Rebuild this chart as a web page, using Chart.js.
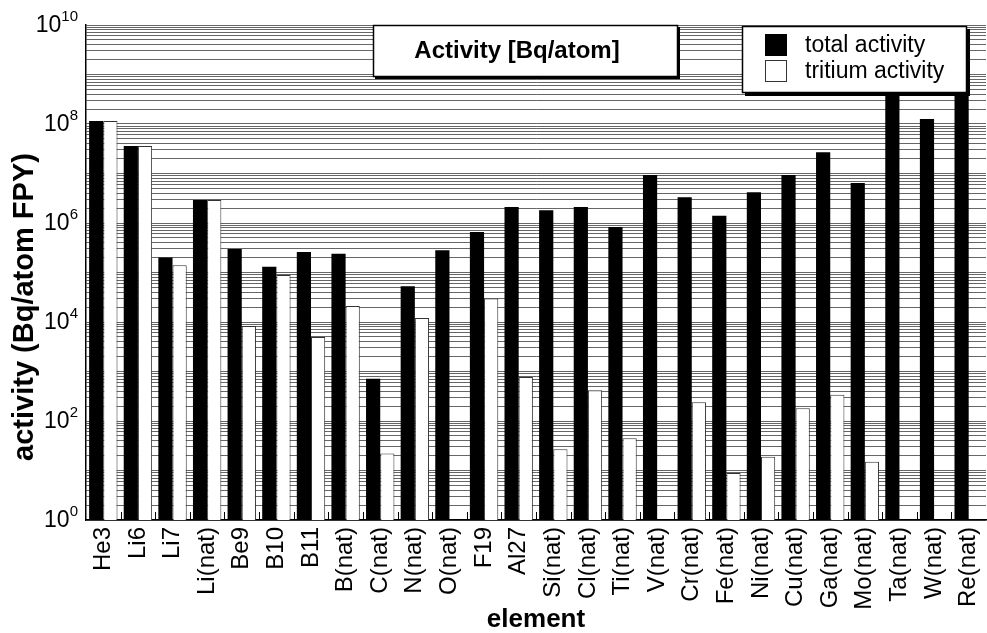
<!DOCTYPE html>
<html>
<head>
<meta charset="utf-8">
<script src="https://cdn.jsdelivr.net/npm/chart.js@4/dist/chart.umd.min.js"></script>
<style>
  body { margin: 0; background: #fff; }
  #wrap { width: 987px; height: 633px; }
</style>
</head>
<body>
<div id="wrap"><canvas id="activity_chart" width="987" height="633"></canvas></div>
<script>
// elements on the x axis
const elements = ['He3', 'Li6', 'Li7', 'Li(nat)', 'Be9', 'B10', 'B11', 'B(nat)', 'C(nat)', 'N(nat)',
   'O(nat)', 'F19', 'Al27', 'Si(nat)', 'Cl(nat)', 'Ti(nat)', 'V(nat)', 'Cr(nat)', 'Fe(nat)', 'Ni(nat)',
   'Cu(nat)', 'Ga(nat)', 'Mo(nat)', 'Ta(nat)', 'W(nat)', 'Re(nat)'];

// activity in Bq/atom FPY
const totalActivity = [1.15e8, 3.6e7, 2.0e5, 2.9e6, 3.0e5, 1.3e5, 2.6e5, 2.4e5, 7.1e2, 5.3e4,
   2.8e5, 6.6e5, 2.1e6, 1.8e6, 2.1e6, 8.3e5, 9.3e6, 3.3e6, 1.4e6, 4.2e6,
   9.3e6, 2.7e7, 6.4e6, 4.5e8, 1.26e8, 4.2e8];
const tritiumActivity = [1.15e8, 3.6e7, 1.4e5, 2.9e6, 8.3e3, 8.9e4, 5.0e3, 2.1e4, 22, 1.2e4,
   null, 3.0e4, 7.7e2, 27, 4.2e2, 45, null, 2.4e2, 8.9, 19,
   1.8e2, 3.4e2, 15, null, null, null];

// labelled decades on the y axis
const yExponents = [0, 2, 4, 6, 8, 10];

const chartTitle = 'Activity [Bq/atom]';
const yTitle = 'activity (Bq/atom FPY)';
const xTitle = 'element';

const FONT = '"Liberation Sans", Arial, Helvetica, sans-serif';
Chart.defaults.font.family = FONT;
Chart.defaults.color = '#000';

// draws the y tick labels with superscripts, y title, inner ticks, title box and legend
const decorations = {
   id: 'decorations',
   afterDatasetsDraw(chart) {
      const ctx = chart.ctx;
      const area = chart.chartArea;
      const n = elements.length;
      ctx.save();
      ctx.strokeStyle = '#000';
      ctx.lineWidth = 1;
      for (let i = 1; i < n; i++) {
         const x = Math.round(area.left + i * (area.right - area.left) / n) + 0.5;
         ctx.beginPath();
         ctx.moveTo(x, area.bottom);
         ctx.lineTo(x, area.bottom - 8);
         ctx.stroke();
      }
      ctx.restore();
   },
   afterDraw(chart) {
      const ctx = chart.ctx;
      const y = chart.scales.y;
      ctx.save();

      // y tick labels 10^n
      ctx.fillStyle = '#000';
      yExponents.forEach(e => {
         const py = y.getPixelForValue(Math.pow(10, e));
         const right = 78;
         ctx.font = '15px ' + FONT;
         const expText = String(e);
         const ew = ctx.measureText(expText).width;
         ctx.textAlign = 'left';
         ctx.textBaseline = 'middle';
         ctx.fillText(expText, right - ew, py - 8);
         ctx.font = '23px ' + FONT;
         ctx.textAlign = 'right';
         ctx.fillText('10', right - ew, py + 1);
      });

      // y axis title
      ctx.save();
      ctx.translate(25, 307);
      ctx.rotate(-Math.PI / 2);
      ctx.font = 'bold 29px ' + FONT;
      ctx.textAlign = 'center';
      ctx.textBaseline = 'middle';
      ctx.fillText(yTitle, 0, 0);
      ctx.restore();

      // title box
      ctx.fillStyle = '#000';
      ctx.fillRect(375, 27, 305, 52);
      ctx.fillStyle = '#fff';
      ctx.fillRect(373, 25, 305, 52);
      ctx.strokeStyle = '#000';
      ctx.lineWidth = 1.5;
      ctx.strokeRect(373.5, 25.5, 304, 51);
      ctx.fillStyle = '#000';
      ctx.font = 'bold 24px ' + FONT;
      ctx.textAlign = 'center';
      ctx.textBaseline = 'middle';
      ctx.fillText(chartTitle, 517, 51);

      // legend box
      ctx.fillStyle = '#000';
      ctx.fillRect(745, 29, 225, 67);
      ctx.fillStyle = '#fff';
      ctx.fillRect(742, 26, 225, 67);
      ctx.strokeRect(742.5, 26.5, 224, 66);
      ctx.font = '23px ' + FONT;
      ctx.textAlign = 'left';
      chart.data.datasets.forEach((ds, i) => {
         const sy = 34 + i * 26;
         ctx.fillStyle = ds.backgroundColor;
         ctx.fillRect(765, sy, 22, 22);
         ctx.strokeStyle = ds.borderColor;
         ctx.lineWidth = 1;
         ctx.strokeRect(765.5, sy + 0.5, 21, 21);
         ctx.fillStyle = '#000';
         ctx.fillText(ds.label, 805, sy + 12);
      });

      ctx.restore();
   }
};

const canvas = document.querySelector('#activity_chart').getContext('2d');

const chart = new Chart(canvas, {
   type: 'bar',
   data: {
      labels: elements,
      datasets: [{
         label: 'total activity',
         data: totalActivity,
         backgroundColor: '#000',
         borderColor: '#000',
         borderWidth: 0
      }, {
         label: 'tritium activity',
         data: tritiumActivity,
         backgroundColor: '#fff',
         borderColor: '#333',
         borderWidth: 1
      }]
   },
   options: {
      responsive: false,
      animation: false,
      events: [],
      layout: { padding: { top: 25, right: 1, left: 0, bottom: 0 } },
      datasets: {
         bar: { categoryPercentage: 0.82, barPercentage: 1.0 }
      },
      plugins: {
         legend: { display: false },
         title: { display: false },
         tooltip: { enabled: false }
      },
      scales: {
         x: {
            grid: { display: false, drawTicks: false },
            border: { display: true, color: '#000', width: 1.5 },
            ticks: {
               autoSkip: false,
               maxRotation: 90,
               minRotation: 90,
               padding: 7,
               font: { size: 24 }
            },
            title: {
               display: true,
               text: xTitle,
               font: { size: 26, weight: 'bold', lineHeight: 1 },
               padding: 0
            },
            afterFit(scale) {
               scale.height = 113;
               scale.paddingLeft = 0;
               scale.paddingRight = 0;
            }
         },
         y: {
            type: 'logarithmic',
            min: 1,
            max: 1e10,
            border: { display: true, color: '#000', width: 1.5 },
            grid: { color: 'rgba(0,0,0,0.6)', lineWidth: 1, drawTicks: false },
            ticks: { display: false },
            afterBuildTicks(scale) {
               const ticks = [];
               for (let e = 0; e < 10; e++) {
                  for (let m = 1; m <= 9; m++) {
                     ticks.push({ value: m * Math.pow(10, e) });
                  }
               }
               ticks.push({ value: 1e10 });
               scale.ticks = ticks;
            },
            afterFit(scale) {
               scale.width = 86;
               scale.paddingTop = 0;
               scale.paddingBottom = 0;
            }
         }
      }
   },
   plugins: [decorations]
});
</script>
</body>
</html>
